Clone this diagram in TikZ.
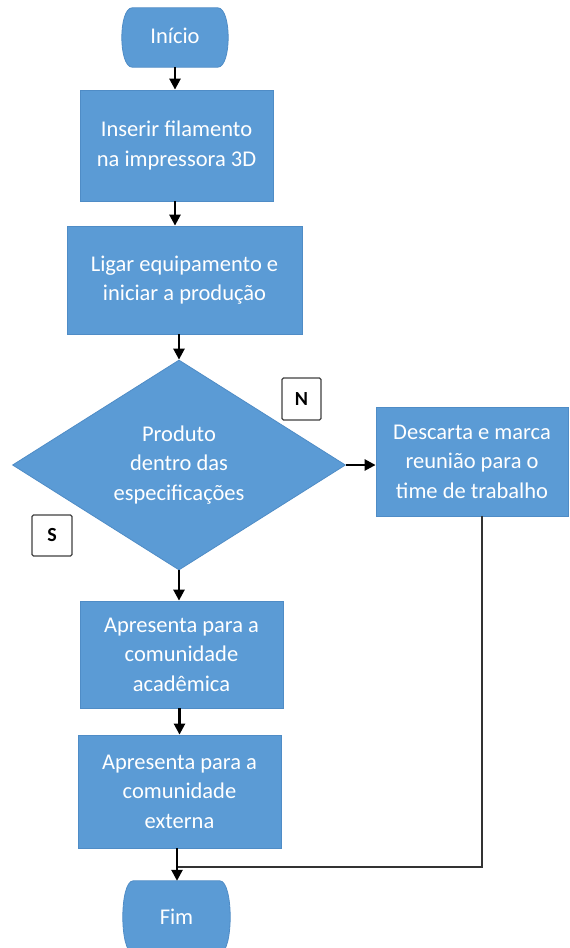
\documentclass[tikz,border=0pt]{standalone}
\usepackage{fontspec}
\setmainfont{Carlito}
\usetikzlibrary{shapes.geometric,arrows.meta,backgrounds}
\definecolor{boxblue}{HTML}{5B9BD5}
\definecolor{boxedge}{HTML}{4F8CC6}
\begin{document}
\begin{tikzpicture}[x=1pt,y=-1pt,
 base/.style={font=\fontsize{22.5}{29.5}\selectfont, text=white, align=center, inner sep=0pt},
 proc/.style={base, rectangle, fill=boxblue, draw=boxedge, line width=0.8pt},
 decision/.style={base, diamond, fill=boxblue, draw=boxedge, line width=0.8pt, shape aspect=1.586},
 termtext/.style={base, rectangle},
 termshape/.style={fill=boxblue, draw=boxedge, line width=0.8pt},
 flag/.style={rectangle, draw=black!75, line width=1.3pt, fill=white, rounded corners=1.5pt, font=\fontsize{20}{22}\selectfont\bfseries, inner sep=0pt},
 arr/.style={line width=2.5pt, draw=black, -{Triangle[length=11pt,width=11pt]}},
 link/.style={line width=2.5pt, draw=black!80}
]
\useasboundingbox (0,0) rectangle (570,948);
\clip (0,0) rectangle (570,948);

% terminators
\node[termtext, minimum width=85, minimum height=59] (inicio) at (175,37.5) {\raisebox{3pt}{Início}};
\node[termtext, minimum width=86, minimum height=72] (fim) at (176.5,917) {Fim};
\begin{pgfonlayer}{background}
\path[termshape] (inicio.north west) -- (inicio.north east)
  .. controls +(14,0) and +(14,0) .. (inicio.south east) -- (inicio.south west)
  .. controls +(-14,0) and +(-14,0) .. (inicio.north west) -- cycle;
\path[termshape] (fim.north west) -- (fim.north east)
  .. controls +(14,0) and +(14,0) .. (fim.south east) -- (fim.south west)
  .. controls +(-14,0) and +(-14,0) .. (fim.north west) -- cycle;
\end{pgfonlayer}

% process boxes
\node[proc, minimum width=193, minimum height=111] (b1) at (176.5,145.5) {Inserir filamento\\na impressora 3D};
\node[proc, minimum width=235, minimum height=108] (b2) at (184.5,280) {\raisebox{5pt}{\begin{tabular}{@{}c@{}}Ligar equipamento e\\iniciar a produção\end{tabular}}};
\node[decision, minimum width=333, minimum height=210] (dec) at (179,465) {Produto\\dentro das\\especificações};
\node[proc, minimum width=192, minimum height=109] (b3) at (472,461.5) {Descarta e marca\\reunião para o\\time de trabalho};
\node[proc, minimum width=203, minimum height=107] (b4) at (181.5,654.5) {Apresenta para a\\comunidade\\acadêmica};
\node[proc, minimum width=203, minimum height=113] (b5) at (179.5,791.5) {Apresenta para a\\comunidade\\externa};

% flags
\node[flag, minimum width=39, minimum height=42] (fn) at (301.5,399) {N};
\node[flag, minimum width=40, minimum height=41] (fs) at (52,535.5) {S};

% connectors
\draw[arr] (inicio.south) -- (inicio.south |- b1.north);
\draw[arr] (b1.south -| inicio.south) -- (inicio.south |- b2.north);
\draw[arr] (dec.north |- b2.south) -- (dec.north);
\draw[arr] (dec.east) -- (dec.east -| b3.west);
\draw[arr] (dec.south) -- (dec.south |- b4.north);
\draw[arr] (b4.south -| b5.north) -- (b5.north);
\coordinate (join) at (177,867);
\draw[link] ([xshift=10pt]b3.south) |- (join);
\draw[arr] (b5.south -| join) -- (join |- fim.north);
\end{tikzpicture}
\end{document}
